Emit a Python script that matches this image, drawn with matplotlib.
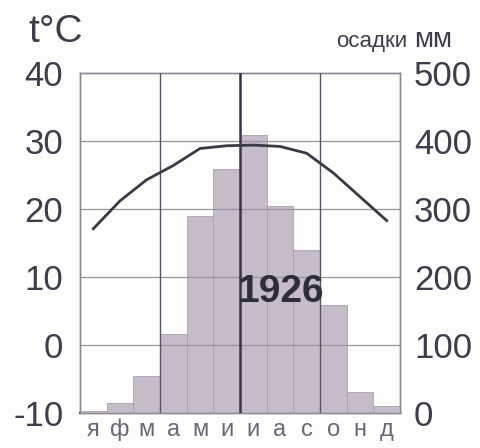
import matplotlib.pyplot as plt
import numpy as np

# monthly climate data for 1926
months = ["я", "ф", "м", "а", "м", "и", "и", "а", "с", "о", "н", "д"]
temp = [17.1, 21.2, 24.3, 26.4, 28.9, 29.3, 29.4, 29.2, 28.2, 25.3, 21.8, 18.3]
precip = [3, 15, 54, 116, 290, 359, 409, 304, 239, 159, 31, 11]
temp_ticks = [-10, 0, 10, 20, 30, 40]
precip_ticks = [0, 100, 200, 300, 400, 500]
year = "1926"

text_col = "#3e3d4c"
bar_col = "#c6bcc9"
font = "Liberation Sans"

fig = plt.figure(figsize=(4.81, 4.48), dpi=100)
fig.patch.set_facecolor("#fdfdfb")
ax = fig.add_axes([80 / 481, 35 / 448, 320 / 481, 340 / 448])
ax.set_facecolor("#fdfdfb")

x = np.arange(12) + 0.5
ax.set_xlim(0, 12)
ax.set_ylim(-10, 40)

# precipitation bars on a twin axis (0..500 mm)
ax2 = ax.twinx()
ax2.set_ylim(0, 500)
ax2.bar(x, precip, width=1.0, color=bar_col, edgecolor="#a99eb0", linewidth=0.6, zorder=1)

# grid drawn over the bars
for t in temp_ticks[1:-1]:
    ax2.axhline((t + 10) * 10, color="#9d949e", lw=0.9, zorder=3)
for v, w, c in [(3, 1.0, "#55546a"), (6, 1.8, "#35344a"), (9, 1.0, "#55546a")]:
    ax2.axvline(v, color=c, lw=w, zorder=3)

# temperature curve
ax2.plot(x, (np.array(temp) + 10) * 10, color="#3b3946", lw=2.0, zorder=4)

ax2.text(7.54, 178, year, fontsize=28, family=font,
         fontweight="bold", color="#2e2d3a", ha="center", va="center", zorder=5)

for a in (ax, ax2):
    for s in a.spines.values():
        s.set_color("#8c8794")
        s.set_linewidth(1.0)
    a.tick_params(length=0)
ax.spines["bottom"].set_color("#4a4858")
ax.spines["bottom"].set_linewidth(1.6)

ax.set_yticks(temp_ticks)
ax.set_yticklabels([str(t) for t in temp_ticks], fontsize=25,
                   family=font, color=text_col)
ax.tick_params(axis="y", pad=12)
ax2.set_yticks(precip_ticks)
ax2.set_yticklabels([str(p) for p in precip_ticks], fontsize=25,
                    family=font, color=text_col)
ax2.tick_params(axis="y", pad=10)

ax.set_xticks(x)
ax.set_xticklabels(months, fontsize=17, family=font, color="#6a6875")
ax.tick_params(axis="x", pad=4)

# axis titles
fig.text(28 / 481, 1 - 42 / 448, "t°C", fontsize=28, family=font,
         color=text_col, ha="left", va="baseline")
fig.text(407 / 481, 1 - 47 / 448, "осадки", fontsize=16, family=font,
         color=text_col, ha="right", va="baseline")
fig.text(414 / 481, 1 - 47 / 448, "мм", fontsize=20, family=font,
         color=text_col, ha="left", va="baseline")

fig.savefig("out.png", dpi=100, facecolor=fig.get_facecolor())
